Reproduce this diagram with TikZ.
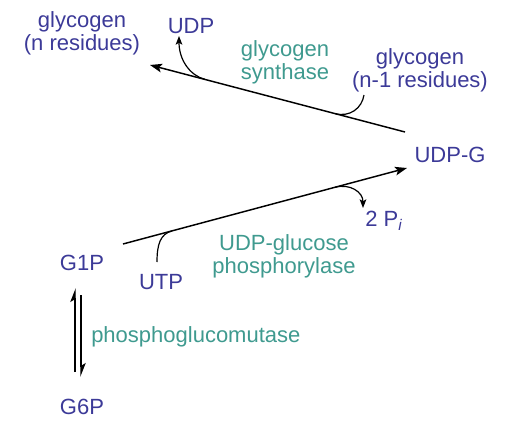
\documentclass[tikz,border=0pt]{standalone}
\usepackage{fontspec}
\setmainfont{Liberation Sans}
\usetikzlibrary{arrows.meta}
\definecolor{xblue}{HTML}{3C3A98}
\definecolor{xteal}{HTML}{3F9A8F}
\tikzset{
	arrow/.style={line width=1.1pt, ->, >={Stealth[length=9pt, width=6.5pt, inset=2pt]}},
	branch/.style={line width=0.9pt},
	tip/.style={->, >={Stealth[length=6.5pt, width=5pt, inset=1.5pt]}},
	half/.style={line width=1.1pt, -{Stealth[left, length=9pt, width=7pt, inset=2pt]}},
	chem/.style={text=xblue, align=center, inner sep=0pt},
	enzyme/.style={text=xteal, align=center, inner sep=0pt},
}
\begin{document}
\begin{tikzpicture}[x=0.75pt, y=-0.75pt, font=\fontsize{16.5}{17.5}\selectfont]
	\useasboundingbox (0,0) rectangle (508,421);
	% species
	\node[chem] (glyN) at (82,33) {glycogen\\(n residues)};
	\node[chem] (UDP) at (191,26) {UDP};
	\node[chem] (glyN1) at (420,70) {glycogen\\(n-1 residues)};
	\node[chem] (UDPG) at (450,155) {UDP-G};
	\node[chem, anchor=west] (Pi) at (365,221) {2 P\textsubscript{\itshape i}};
	\node[chem] (UTP) at (161,282) {UTP};
	\node[chem] (G1P) at (82,263) {G1P};
	\node[chem] (G6P) at (82,407) {G6P};
	% enzymes
	\node[enzyme] (synthase) at (285,62) {glycogen\\synthase};
	\node[enzyme] (phosph) at (284,256) {UDP-glucose\\phosphorylase};
	\node[enzyme, anchor=west] (mutase) at (91,337) {phosphoglucomutase};

	% UDP-G -> glycogen
	\coordinate (upS) at (405,132);
	\coordinate (upE) at (150,65);
	\coordinate (n1S) at (364,95);
	\coordinate (n1M) at (335,113.6);
	\coordinate (udpS) at (205,79.4);
	\coordinate (udpE) at (179,36);
	\draw[arrow] (upS) -- (upE);
	\draw[branch] (n1S) .. controls (362,108) and (350,117.5) .. (n1M);
	\draw[branch, tip] (udpS) .. controls (190,75.5) and (179,60) .. (udpE);

	% G1P -> UDP-G
	\coordinate (loS) at (123,244);
	\coordinate (loE) at (407,168);
	\coordinate (utpS) at (157,262);
	\coordinate (utpM) at (172,230.9);
	\coordinate (piS) at (335,187.3);
	\coordinate (piE) at (363,208);
	\draw[arrow] (loS) -- (loE);
	\draw[branch] (utpS) .. controls (157,245) and (160,234.1) .. (utpM);
	\draw[branch, tip] (piS) .. controls (350,183.3) and (363,192) .. (piE);

	% G1P <-> G6P
	\coordinate (eqA) at (75,372);
	\coordinate (eqB) at (75,288);
	\coordinate (eqC) at (81,295);
	\coordinate (eqD) at (81,377);
	\draw[half] (eqA) -- (eqB);
	\draw[half] (eqC) -- (eqD);
\end{tikzpicture}
\end{document}
